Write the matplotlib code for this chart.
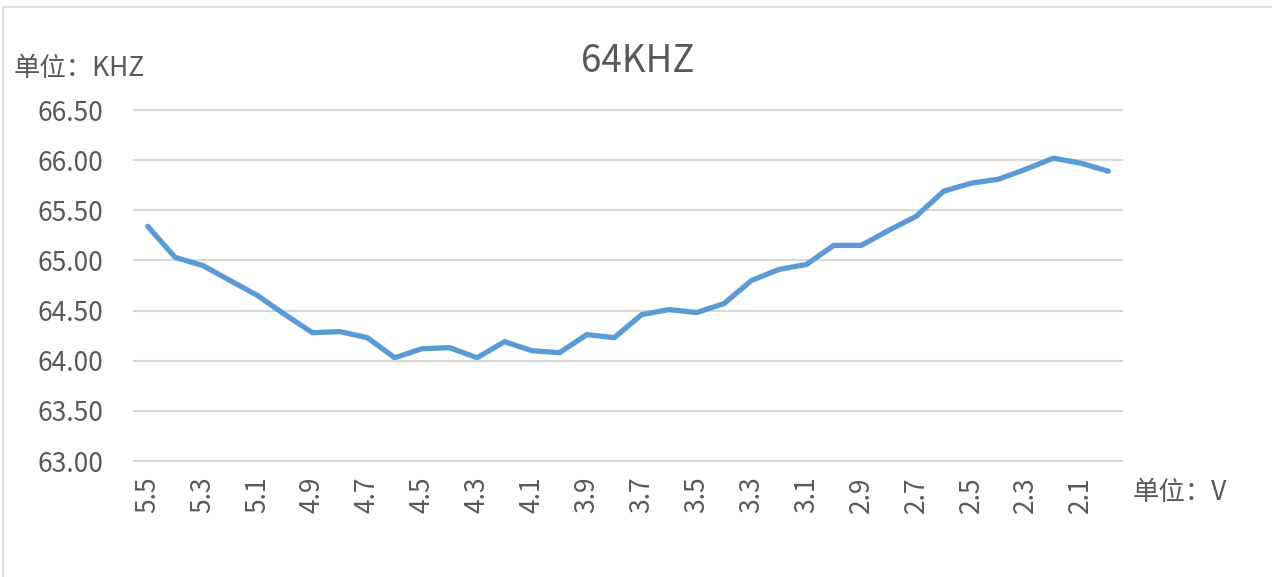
import matplotlib
matplotlib.use("Agg")
import matplotlib.pyplot as plt
from matplotlib.patches import Rectangle

plt.rcParams['font.family'] = ['Noto Sans CJK SC', 'DejaVu Sans']

# 电压 (V) 与频率 (KHZ)
voltage = [5.5, 5.4, 5.3, 5.2, 5.1, 5.0, 4.9, 4.8, 4.7, 4.6, 4.5, 4.4,
           4.3, 4.2, 4.1, 4.0, 3.9, 3.8, 3.7, 3.6, 3.5, 3.4, 3.3, 3.2,
           3.1, 3.0, 2.9, 2.8, 2.7, 2.6, 2.5, 2.4, 2.3, 2.2, 2.1, 2.0]
freq = [65.34, 65.03, 64.95, 64.80, 64.65, 64.46, 64.28, 64.29, 64.23, 64.03,
        64.12, 64.13, 64.03, 64.19, 64.10, 64.08, 64.26, 64.23, 64.46, 64.51,
        64.48, 64.57, 64.80, 64.91, 64.96, 65.15, 65.15, 65.30, 65.44, 65.69,
        65.77, 65.81, 65.91, 66.02, 65.97, 65.89]
yticks = [63.0, 63.5, 64.0, 64.5, 65.0, 65.5, 66.0, 66.5]

TXT = '#595959'
GRID = '#D9D9D9'
W, H = 1272, 577
FS = 19

fig = plt.figure(figsize=(W / 100, H / 100), dpi=100)
fig.patches.append(Rectangle((3 / W, -0.1), 1.2, 1.1 - 7 / H, transform=fig.transFigure,
                             fill=False, edgecolor=GRID, linewidth=1.2))

ax = fig.add_axes([134 / W, 1 - 461 / H, (1122 - 134) / W, (461 - 110) / H])
x = list(range(len(voltage)))
ax.plot(x, freq, color='#5B9BD5', linewidth=3.8, solid_capstyle='round', solid_joinstyle='round')

ax.set_xlim(-0.5, len(voltage) - 0.5)
ax.set_ylim(63, 66.5)
ax.set_yticks(yticks)
ax.set_yticklabels([f"{v:.2f}" for v in yticks])
ax.set_xticks(x[::2])
ax.set_xticklabels([f"{v:.1f}" for v in voltage[::2]], rotation=90)
ax.tick_params(axis='both', length=0, labelsize=FS, labelcolor=TXT)
ax.tick_params(axis='y', pad=22)
ax.tick_params(axis='x', pad=11)
ax.grid(axis='y', color=GRID, linewidth=1.5)
ax.set_axisbelow(True)
for gl in ax.get_ygridlines():
    gl.set_clip_on(False)
for s in ax.spines.values():
    s.set_visible(False)

fig.text(638 / W, 1 - 62 / H, "64KHZ", ha='center', va='center', fontsize=26.5, color=TXT)
fig.text(14 / W, 1 - 69 / H, "单位：KHZ", ha='left', va='center', fontsize=FS, color=TXT)
fig.text(1133 / W, 1 - 492 / H, "单位：V", ha='left', va='center', fontsize=FS, color=TXT)

fig.savefig("out.png", dpi=100)
